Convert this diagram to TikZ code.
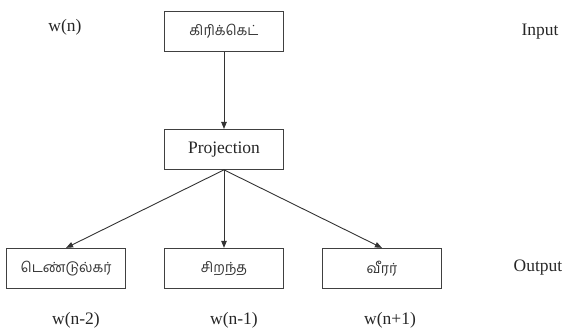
\documentclass[tikz,border=0pt]{standalone}
\usepackage{fontspec}
\setmainfont{Liberation Serif}
\newfontfamily\tamilfont[Script=Tamil]{Hind Madurai}
\usepackage{tikz}
\usetikzlibrary{arrows.meta, positioning}

\begin{document}
\begin{tikzpicture}[
    x=1pt, y=-1pt,
    node distance=77pt and 38pt,
    wordbox/.style={draw=black!75, line width=0.9pt, rectangle, minimum height=40pt, minimum width=119pt, inner sep=0pt, align=center, text=black!80},
    tam/.style={font=\tamilfont\fontsize{14}{16}\selectfont},
    lbl/.style={font=\fontsize{17.5}{20}\selectfont, text=black!85, inner sep=0pt},
    arr/.style={draw=black!80, line width=0.9pt, -{Triangle[length=7pt, width=5.5pt]}}
]
    \useasboundingbox (0,0) rectangle (564,329);

    \node[wordbox, tam] (inword) at (224,31.5) {கிரிக்கெட்};
    \node[wordbox, lbl, inner sep=0pt, below=of inword] (proj) {Projection};
    \node[wordbox, tam, below=78pt of proj] (ctx2) {சிறந்த};
    \node[wordbox, tam, left=of ctx2] (ctx1) {டெண்டுல்கர்};
    \node[wordbox, tam, right=of ctx2] (ctx3) {வீரர்};

    \node[lbl] (win) at (65,27) {w(n)};
    \node[lbl] (inlbl) at (540,32) {Input};
    \node[lbl] (outlbl) at (538,268) {Output};
    \node[lbl] (w1) at (76,320) {w(n-2)};
    \node[lbl] (w2) at (234,320) {w(n-1)};
    \node[lbl] (w3) at (390,320) {w(n+1)};

    \draw[arr] (inword) -- (proj);
    \draw[arr] (proj.south) -- (ctx1.north);
    \draw[arr] (proj.south) -- (ctx2.north);
    \draw[arr] (proj.south) -- (ctx3.north);
\end{tikzpicture}
\end{document}
